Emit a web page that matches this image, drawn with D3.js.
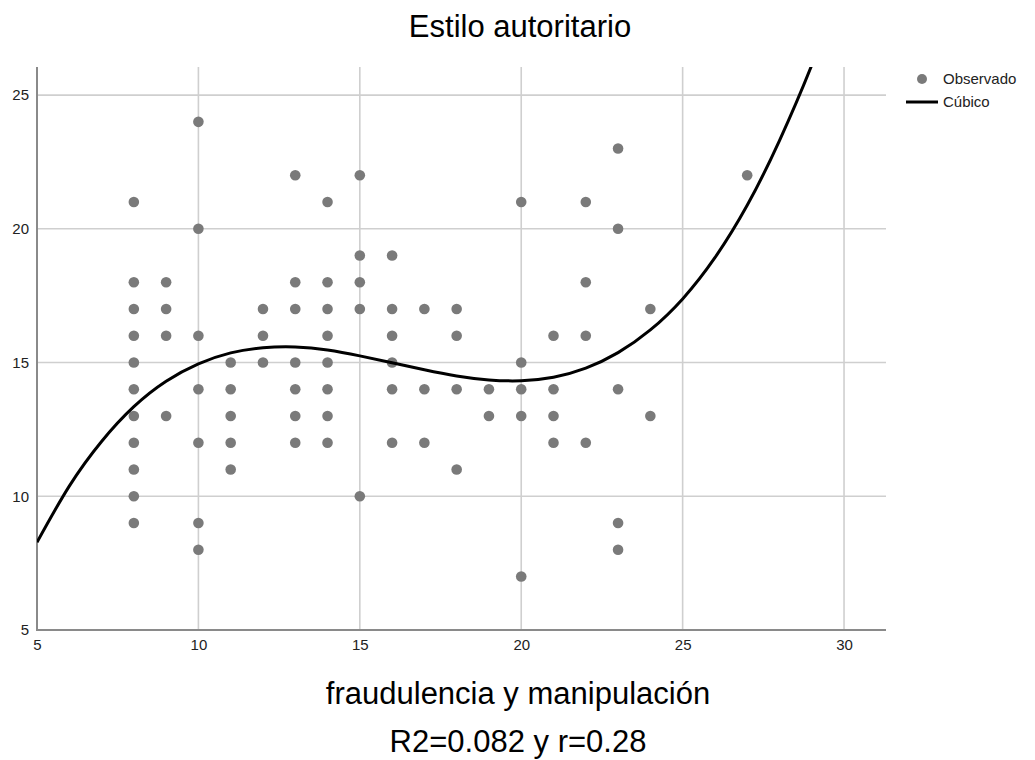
<!DOCTYPE html>
<html>
<head>
<meta charset="utf-8">
<script src="https://cdn.jsdelivr.net/npm/d3@7"></script>
<style>
  html, body { margin: 0; padding: 0; background: #fff; }
  svg { display: block; font-family: Arial, "Liberation Sans", sans-serif; }
</style>
</head>
<body>
<svg id="chart" width="1035" height="760"></svg>
<script>
// Observed points (fraudulencia y manipulación, Estilo autoritario)
const obsX = [
  8,8,8,8,8,8,8,8,8,8,8,
  9,9,9,9,
  10,10,10,10,10,10,10,
  11,11,11,11,11,
  12,12,12,
  13,13,13,13,13,13,13,
  14,14,14,14,14,14,14,14,
  15,15,15,15,15,
  16,16,16,16,16,16,
  17,17,17,
  18,18,18,18,
  19,19,
  20,20,20,20,20,
  21,21,21,21,
  22,22,22,22,
  23,23,23,23,23,
  24,24,
  27
];
const obsY = [
  21,18,17,16,15,14,13,12,11,10,9,
  18,17,16,13,
  24,20,16,14,12,9,8,
  15,14,13,12,11,
  17,16,15,
  22,18,17,15,14,13,12,
  21,18,17,16,15,14,13,12,
  22,19,18,17,10,
  19,17,16,15,14,12,
  17,14,12,
  17,16,14,11,
  14,13,
  21,15,14,13,7,
  16,14,13,12,
  21,18,16,12,
  23,20,14,9,8,
  17,13,
  22
];
// Cubic fit line
const fitX = [5,6,7,8,9,10,11,12,13,14,15,16,17,18,19,20,21,22,23,24,25,26,27,28,29,29.5];
const fitY = [8.28,10.38,12.05,13.35,14.3,14.95,15.36,15.55,15.58,15.47,15.25,14.99,14.73,14.5,14.35,14.32,14.45,14.79,15.37,16.22,17.38,18.92,20.88,23.3,26.12,27.8];

const xTicks = [5,10,15,20,25,30];
const yTicks = [5,10,15,20,25];

const titleText = "Estilo autoritario";
const xLabel = "fraudulencia y manipulación";
const noteText = "R2=0.082 y r=0.28";
const legendLabels = ["Observado", "Cúbico"];

const svg = d3.select("#chart");
const L = 37, R = 886, T = 67, B = 630;

const x = d3.scaleLinear().domain([5, 31.3]).range([L, R]);
const y = d3.scaleLinear().domain([5, 26.05]).range([B, T]);

// grid
const grid = svg.append("g");
grid.selectAll("line.v").data(xTicks.filter(d => d > 5)).join("line")
  .attr("x1", d => x(d)).attr("x2", d => x(d))
  .attr("y1", T).attr("y2", B)
  .attr("stroke", "#cfcfcf").attr("stroke-width", 1.6);
grid.selectAll("line.h").data(yTicks.filter(d => d > 5)).join("line")
  .attr("x1", L).attr("x2", R)
  .attr("y1", d => y(d)).attr("y2", d => y(d))
  .attr("stroke", "#cfcfcf").attr("stroke-width", 1.6);

// axes
const xAxis = d3.axisBottom(x).tickValues(xTicks).tickSize(0).tickPadding(9);
const yAxis = d3.axisLeft(y).tickValues(yTicks).tickSize(0).tickPadding(8);

const gx = svg.append("g").attr("transform", `translate(0,${B})`).call(xAxis);
gx.select(".domain").remove();
gx.selectAll("text").attr("font-size", 15).attr("fill", "#222")
  .attr("font-family", "Arial, 'Liberation Sans', sans-serif");

const gy = svg.append("g").attr("transform", `translate(${L},0)`).call(yAxis);
gy.select(".domain").remove();
gy.selectAll("text").attr("font-size", 15).attr("fill", "#222")
  .attr("font-family", "Arial, 'Liberation Sans', sans-serif");

// axis lines
svg.append("line").attr("x1", L).attr("x2", L).attr("y1", T).attr("y2", B + 1)
  .attr("stroke", "#8a8a8a").attr("stroke-width", 2);
svg.append("line").attr("x1", L - 1).attr("x2", R).attr("y1", B).attr("y2", B)
  .attr("stroke", "#8a8a8a").attr("stroke-width", 2);

// clip
svg.append("defs").append("clipPath").attr("id", "plotclip")
  .append("rect").attr("x", L).attr("y", T).attr("width", R - L).attr("height", B - T);

// points
const pts = obsX.map((d, i) => ({x: d, y: obsY[i]}));
svg.append("g").selectAll("circle").data(pts).join("circle")
  .attr("cx", d => x(d.x)).attr("cy", d => y(d.y)).attr("r", 5.3)
  .attr("fill", "#7a7a7a");

// fit line
const fit = fitX.map((d, i) => [d, fitY[i]]);
svg.append("path").datum(fit)
  .attr("clip-path", "url(#plotclip)")
  .attr("d", d3.line().x(d => x(d[0])).y(d => y(d[1])).curve(d3.curveNatural))
  .attr("fill", "none").attr("stroke", "#000").attr("stroke-width", 3);

// legend
const lg = svg.append("g");
lg.append("circle").attr("cx", 922).attr("cy", 79).attr("r", 5).attr("fill", "#7a7a7a");
lg.append("line").attr("x1", 906).attr("x2", 938).attr("y1", 102).attr("y2", 102)
  .attr("stroke", "#000").attr("stroke-width", 3);
lg.selectAll("text").data(legendLabels).join("text")
  .attr("x", 943).attr("y", (d, i) => 84 + i * 23)
  .attr("font-size", 15).attr("fill", "#222").text(d => d);

// titles
svg.append("text").attr("x", 520).attr("y", 37).attr("text-anchor", "middle")
  .attr("font-size", 31).attr("fill", "#000").text(titleText);
svg.append("text").attr("x", 518).attr("y", 704).attr("text-anchor", "middle")
  .attr("font-size", 31).attr("fill", "#000").text(xLabel);
svg.append("text").attr("x", 518).attr("y", 752).attr("text-anchor", "middle")
  .attr("font-size", 31).attr("fill", "#000").text(noteText);
</script>
</body>
</html>
